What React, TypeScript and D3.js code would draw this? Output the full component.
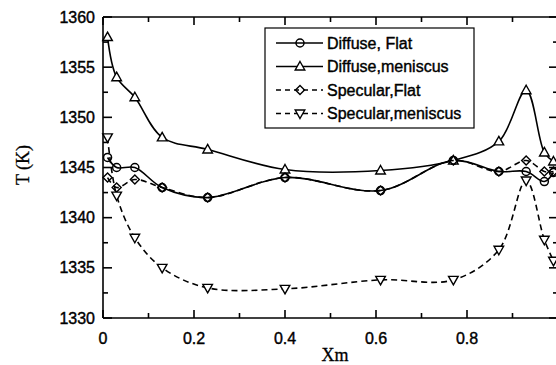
import React from "react";
import * as d3 from "d3";

const xm = [0.01, 0.03, 0.07, 0.13, 0.23, 0.4, 0.61, 0.77, 0.87, 0.93, 0.97, 0.99];
const diffuseFlat = [1346, 1345, 1345, 1343, 1342, 1344, 1342.7, 1345.7, 1344.6, 1344.6, 1343.6, 1344.5];
const diffuseMeniscus = [1358, 1354, 1352, 1348, 1346.8, 1344.8, 1344.7, 1345.7, 1347.6, 1352.7, 1346.5, 1345.6];
const specularFlat = [1344, 1343, 1343.8, 1343, 1342, 1344, 1342.7, 1345.7, 1344.6, 1345.7, 1344.6, 1344.6];
const specularMeniscus = [1348, 1342.2, 1338, 1335, 1333, 1332.9, 1333.8, 1333.8, 1336.8, 1343.7, 1337.8, 1335.7];

const seriesNames = ["Diffuse, Flat", "Diffuse,meniscus", "Specular,Flat", "Specular,meniscus"];
const xTicks = [0, 0.2, 0.4, 0.6, 0.8, 1.0];
const xTickLabels = ["0", "0.2", "0.4", "0.6", "0.8", ""];
const yTicks = [1330, 1335, 1340, 1345, 1350, 1355, 1360];

const W = 556;
const H = 365;
const L = 103, R = 558, T = 17, B = 318;

const x = d3.scaleLinear().domain([0, 1]).range([L, R]);
const y = d3.scaleLinear().domain([1330, 1360]).range([B, T]);

type Marker = "circle" | "triangle" | "diamond" | "invtriangle";

function markerPath(m: Marker, cx: number, cy: number): string {
  if (m === "triangle") return `M${cx},${cy - 5}L${cx + 4.8},${cy + 3.5}L${cx - 4.8},${cy + 3.5}Z`;
  if (m === "invtriangle") return `M${cx},${cy + 5}L${cx + 4.8},${cy - 3.5}L${cx - 4.8},${cy - 3.5}Z`;
  if (m === "diamond") return `M${cx},${cy - 4.5}L${cx + 4.5},${cy}L${cx},${cy + 4.5}L${cx - 4.5},${cy}Z`;
  return "";
}

function MarkerShape({ m, cx, cy }: { m: Marker; cx: number; cy: number }) {
  if (m === "circle") return <circle cx={cx} cy={cy} r={4} fill="none" stroke="#000" strokeWidth={1.5} />;
  return <path d={markerPath(m, cx, cy)} fill={m === "diamond" ? "none" : "#fff"} stroke="#000" strokeWidth={1.4} />;
}

const series: { name: string; values: number[]; marker: Marker; dashed: boolean }[] = [
  { name: seriesNames[0], values: diffuseFlat, marker: "circle", dashed: false },
  { name: seriesNames[1], values: diffuseMeniscus, marker: "triangle", dashed: false },
  { name: seriesNames[2], values: specularFlat, marker: "diamond", dashed: true },
  { name: seriesNames[3], values: specularMeniscus, marker: "invtriangle", dashed: true },
];

export default function App() {
  const line = d3
    .line<[number, number]>()
    .x((d) => x(d[0]))
    .y((d) => y(d[1]))
    .curve(d3.curveCatmullRom.alpha(0.5));

  const xMinor = d3.range(0.1, 1.0, 0.2);
  const yMinor = d3.range(1332.5, 1360, 5);
  const sans = "'Liberation Sans', Arial, Helvetica, sans-serif";
  const serif = "'Liberation Serif', 'Times New Roman', serif";
  const legendRows = [43, 66.5, 90, 113.5];

  return (
    <svg width={W} height={H} style={{ position: "absolute", left: 0, top: 0, background: "#fff" }}>
      <rect x={0} y={0} width={W} height={H} fill="#fff" />
      {/* frame */}
      <g stroke="#000" strokeWidth={1.6} fill="none">
        <line x1={L} y1={T} x2={L} y2={B} />
        <line x1={L} y1={B} x2={R} y2={B} />
        <line x1={L} y1={T} x2={R} y2={T} />
        <line x1={R} y1={T} x2={R} y2={B} />
        {xTicks.map((t) => (
          <g key={"xt" + t}>
            <line x1={x(t)} x2={x(t)} y1={B} y2={B - 8} />
            <line x1={x(t)} x2={x(t)} y1={T} y2={T + 8} />
          </g>
        ))}
        {xMinor.map((t) => (
          <g key={"xm" + t}>
            <line x1={x(t)} x2={x(t)} y1={B} y2={B - 5} />
            <line x1={x(t)} x2={x(t)} y1={T} y2={T + 5} />
          </g>
        ))}
        {yTicks.map((t) => (
          <g key={"yt" + t}>
            <line x1={L} x2={L + 9} y1={y(t)} y2={y(t)} />
            <line x1={R} x2={R - 9} y1={y(t)} y2={y(t)} />
          </g>
        ))}
        {yMinor.map((t) => (
          <g key={"ym" + t}>
            <line x1={L} x2={L + 5} y1={y(t)} y2={y(t)} />
            <line x1={R} x2={R - 5} y1={y(t)} y2={y(t)} />
          </g>
        ))}
      </g>
      {/* tick labels */}
      <g fontFamily={sans} fontSize={16} fill="#000" stroke="#000" strokeWidth={0.4}>
        {yTicks.map((t) => (
          <text key={"yl" + t} x={95} y={y(t)} dy="0.35em" textAnchor="end">
            {t}
          </text>
        ))}
        {xTicks.map((t, i) =>
          xTickLabels[i] ? (
            <text key={"xl" + t} x={x(t)} y={344} textAnchor="middle">
              {xTickLabels[i]}
            </text>
          ) : null
        )}
      </g>
      {/* axis titles */}
      <text x={335} y={361} textAnchor="middle" fontFamily={serif} fontSize={18} stroke="#000" strokeWidth={0.3}>
        Xm
      </text>
      <text
        transform="translate(29,165) rotate(-90)"
        textAnchor="middle"
        fontFamily={serif}
        fontSize={18}
        stroke="#000"
        strokeWidth={0.3}
      >
        T (K)
      </text>
      {/* series */}
      {series.map((s) => {
        const pts: [number, number][] = xm.map((xv, i) => [xv, s.values[i]]);
        return (
          <g key={s.name}>
            <path
              d={line(pts) || ""}
              fill="none"
              stroke="#000"
              strokeWidth={1.6}
              strokeDasharray={s.dashed ? "6,4" : undefined}
            />
            {pts.map((p, i) => (
              <MarkerShape key={i} m={s.marker} cx={x(p[0])} cy={y(p[1])} />
            ))}
          </g>
        );
      })}
      {/* legend */}
      <rect x={265} y={28} width={209} height={100} fill="#fff" stroke="#000" strokeWidth={1.2} />
      {series.map((s, i) => (
        <g key={"lg" + s.name}>
          <line
            x1={276}
            x2={323}
            y1={legendRows[i]}
            y2={legendRows[i]}
            stroke="#000"
            strokeWidth={1.4}
            strokeDasharray={s.dashed ? "5,4" : undefined}
          />
          <MarkerShape m={s.marker} cx={300} cy={legendRows[i]} />
          <text x={327} y={legendRows[i]} dy="0.35em" fontFamily={sans} fontSize={16} stroke="#000" strokeWidth={0.4}>
            {s.name}
          </text>
        </g>
      ))}
    </svg>
  );
}
